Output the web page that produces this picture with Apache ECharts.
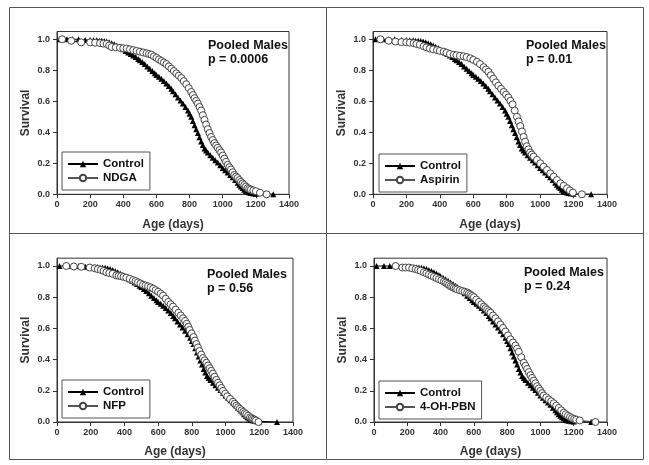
<!DOCTYPE html>
<html>
<head>
<meta charset="utf-8">
<script src="https://cdn.jsdelivr.net/npm/echarts@6/dist/echarts.min.js"></script>
<style>
  html, body { margin: 0; padding: 0; background: #fff; }
  #chart { width: 649px; height: 465px; }
</style>
</head>
<body>
<div id="chart"></div>
<script>
// ages (days) and survival fraction
// pooled male controls, same cohort in all four panels
var control = [[15,1],[60,1],[95,1],[130,1],[170,0.995],[200,0.995],[220,0.993],[240,0.993],[255,0.99],[270,0.99],[285,0.988],[300,0.985],[315,0.98],[330,0.975],[345,0.968],[360,0.96],[375,0.952],[390,0.943],[400,0.935],[415,0.925],[430,0.915],[445,0.905],[460,0.895],[475,0.885],[490,0.873],[500,0.865],[515,0.853],[530,0.84],[545,0.825],[560,0.81],[575,0.795],[590,0.78],[600,0.77],[615,0.758],[630,0.745],[645,0.73],[660,0.715],[675,0.698],[690,0.68],[700,0.665],[715,0.645],[730,0.625],[745,0.605],[760,0.585],[775,0.563],[790,0.54],[800,0.52],[810,0.5],[820,0.473],[830,0.445],[840,0.42],[850,0.395],[860,0.368],[870,0.34],[880,0.318],[890,0.295],[900,0.282],[910,0.27],[925,0.252],[940,0.235],[955,0.22],[970,0.205],[985,0.188],[1000,0.17],[1015,0.155],[1030,0.14],[1045,0.125],[1060,0.11],[1075,0.092],[1090,0.075],[1100,0.062],[1110,0.05],[1120,0.04],[1130,0.03],[1140,0.022],[1150,0.015],[1160,0.011],[1170,0.008],[1185,0.005],[1200,0.004],[1305,0]];

var ndga = [[31,1],[86,0.99],[146,0.98],[200,0.98],[230,0.978],[260,0.975],[280,0.972],[300,0.97],[315,0.96],[330,0.95],[355,0.948],[380,0.945],[400,0.942],[420,0.94],[440,0.935],[460,0.93],[480,0.925],[500,0.92],[520,0.915],[540,0.91],[555,0.905],[570,0.9],[585,0.89],[600,0.88],[615,0.87],[630,0.86],[645,0.85],[660,0.84],[675,0.825],[690,0.81],[705,0.795],[720,0.78],[735,0.765],[750,0.75],[765,0.73],[780,0.71],[795,0.685],[810,0.66],[820,0.64],[830,0.62],[840,0.603],[850,0.585],[860,0.563],[870,0.54],[880,0.51],[890,0.48],[900,0.45],[910,0.42],[920,0.395],[930,0.37],[940,0.35],[950,0.33],[960,0.315],[970,0.3],[980,0.285],[990,0.27],[1000,0.25],[1010,0.23],[1020,0.21],[1030,0.19],[1040,0.175],[1050,0.16],[1060,0.142],[1070,0.125],[1080,0.115],[1090,0.105],[1100,0.092],[1110,0.08],[1120,0.07],[1130,0.06],[1140,0.05],[1150,0.04],[1160,0.035],[1170,0.03],[1185,0.025],[1200,0.02],[1225,0.01],[1265,0]];

var aspirin = [[44,1],[94,0.99],[134,0.985],[170,0.982],[199,0.98],[220,0.978],[243,0.975],[260,0.97],[280,0.965],[303,0.955],[320,0.948],[340,0.94],[360,0.935],[383,0.93],[400,0.925],[423,0.92],[440,0.913],[460,0.905],[483,0.9],[500,0.897],[520,0.893],[542,0.89],[560,0.885],[582,0.877],[600,0.867],[622,0.855],[640,0.84],[662,0.82],[676,0.805],[690,0.79],[705,0.768],[720,0.745],[735,0.722],[750,0.7],[766,0.68],[782,0.66],[796,0.643],[810,0.625],[822,0.603],[835,0.58],[848,0.54],[861,0.5],[871,0.47],[881,0.44],[891,0.405],[901,0.37],[910,0.34],[920,0.31],[930,0.29],[940,0.27],[950,0.256],[961,0.243],[981,0.222],[1001,0.2],[1021,0.178],[1041,0.157],[1061,0.135],[1081,0.114],[1101,0.092],[1121,0.071],[1141,0.055],[1161,0.039],[1178,0.025],[1196,0.011],[1250,0]];

var nfp = [[55,1],[100,0.997],[144,0.995],[194,0.99],[224,0.985],[242,0.98],[260,0.975],[276,0.968],[293,0.96],[310,0.955],[330,0.95],[352,0.94],[366,0.937],[380,0.935],[395,0.93],[411,0.925],[431,0.918],[451,0.91],[466,0.903],[480,0.895],[495,0.888],[510,0.88],[525,0.875],[540,0.87],[555,0.863],[570,0.855],[585,0.845],[600,0.835],[615,0.823],[629,0.81],[645,0.79],[660,0.77],[674,0.755],[688,0.74],[704,0.72],[720,0.7],[734,0.683],[748,0.665],[760,0.648],[770,0.63],[779,0.61],[787,0.59],[798,0.568],[810,0.545],[818,0.522],[827,0.5],[836,0.478],[845,0.455],[856,0.432],[866,0.41],[876,0.395],[886,0.38],[896,0.362],[906,0.345],[915,0.328],[925,0.31],[935,0.29],[945,0.27],[955,0.252],[965,0.235],[975,0.218],[985,0.2],[998,0.182],[1010,0.165],[1027,0.148],[1044,0.13],[1054,0.117],[1064,0.105],[1074,0.095],[1084,0.085],[1095,0.075],[1105,0.065],[1114,0.057],[1123,0.05],[1134,0.04],[1145,0.03],[1154,0.025],[1163,0.02],[1172,0.015],[1180,0.01],[1195,0]];

var ohpbn = [[130,1],[170,0.99],[190,0.99],[210,0.99],[230,0.985],[250,0.98],[265,0.975],[280,0.97],[300,0.96],[315,0.953],[330,0.945],[345,0.938],[360,0.93],[375,0.923],[390,0.915],[405,0.908],[420,0.9],[430,0.893],[440,0.885],[450,0.878],[460,0.87],[470,0.865],[480,0.86],[490,0.855],[500,0.85],[515,0.845],[530,0.84],[545,0.835],[560,0.83],[570,0.823],[580,0.815],[590,0.808],[600,0.8],[615,0.785],[630,0.77],[645,0.755],[660,0.74],[670,0.73],[680,0.72],[690,0.71],[700,0.7],[715,0.683],[730,0.665],[745,0.645],[760,0.625],[775,0.603],[790,0.58],[805,0.555],[820,0.53],[835,0.51],[850,0.49],[860,0.47],[870,0.45],[885,0.415],[900,0.38],[910,0.36],[920,0.34],[930,0.32],[940,0.3],[950,0.283],[960,0.265],[970,0.248],[980,0.23],[990,0.215],[1000,0.2],[1010,0.185],[1020,0.17],[1035,0.158],[1050,0.145],[1065,0.133],[1080,0.12],[1095,0.105],[1110,0.09],[1125,0.075],[1140,0.06],[1152,0.05],[1165,0.04],[1178,0.032],[1190,0.025],[1203,0.02],[1215,0.015],[1236,0.01],[1330,0]];

var treatNames = ['NDGA', 'Aspirin', 'NFP', '4-OH-PBN'];
var treatData = [ndga, aspirin, nfp, ohpbn];
var pValues = ['0.0006', '0.01', '0.56', '0.24'];
var yTicks = [0, 0.2, 0.4, 0.6, 0.8, 1.0];

// panel layout
var grids = [
  {left: 57, top: 31.5, width: 232, height: 162.8},
  {left: 373, top: 31.5, width: 234, height: 162.8},
  {left: 57, top: 258.2, width: 236, height: 163.8},
  {left: 374, top: 258.2, width: 233, height: 163.8}
];
var legendPos = [[62, 152, 84], [379, 154, 83], [62, 380, 84], [379, 381, 98]];
var notePos = [[208, 39], [526, 39], [207, 268], [524, 266]];

var font = 'Liberation Sans, Arial, sans-serif';
var dark = '#333';

var xAxes = [], yAxes = [], series = [], legends = [], titles = [];
for (var i = 0; i < 4; i++) {
  xAxes.push({
    gridIndex: i, type: 'value', min: 0, max: 1400, interval: 200,
    name: 'Age (days)', nameLocation: 'middle', nameGap: 24,
    nameTextStyle: {fontFamily: font, fontWeight: 'bold', fontSize: 12, color: dark},
    axisLine: {lineStyle: {color: dark, width: 1}},
    axisTick: {length: 4, lineStyle: {color: dark}},
    axisLabel: {fontFamily: font, fontWeight: 'bold', fontSize: 9, color: dark, margin: 6,
      formatter: function (v) { return String(v); }},
    splitLine: {show: false}
  });
  yAxes.push({
    gridIndex: i, type: 'value', min: 0, max: 1.05,
    name: 'Survival', nameLocation: 'middle', nameGap: 25, nameRotate: 90,
    nameTextStyle: {fontFamily: font, fontWeight: 'bold', fontSize: 12, color: dark},
    axisLine: {lineStyle: {color: dark, width: 1}},
    axisTick: {length: 4, lineStyle: {color: dark}, customValues: yTicks},
    axisLabel: {fontFamily: font, fontWeight: 'bold', fontSize: 9, color: dark, margin: 7,
      customValues: yTicks, formatter: function (v) { return v.toFixed(1); }},
    splitLine: {show: false}
  });
  series.push({
    name: 'Control', type: 'line', xAxisIndex: i, yAxisIndex: i,
    data: control, symbol: 'triangle', symbolSize: 6,
    itemStyle: {color: '#000'},
    lineStyle: {color: '#000', width: 1}
  });
  series.push({
    name: treatNames[i], type: 'line', xAxisIndex: i, yAxisIndex: i,
    data: treatData[i], symbol: 'circle', symbolSize: 7,
    itemStyle: {color: '#fff', borderColor: '#444', borderWidth: 1},
    lineStyle: {color: '#555', width: 1}
  });
  legends.push({
    data: ['Control', treatNames[i]], orient: 'vertical',
    left: legendPos[i][0], top: legendPos[i][1], width: legendPos[i][2],
    itemWidth: 30, itemHeight: 8, itemGap: 0, padding: [5, 6, 5, 5],
    borderColor: '#555', borderWidth: 1,
    selectedMode: false,
    textStyle: {fontFamily: font, fontWeight: 'bold', fontSize: 11.5, color: '#111', lineHeight: 14}
  });
  titles.push({
    text: 'Pooled Males\np = ' + pValues[i],
    left: notePos[i][0], top: notePos[i][1], padding: 0,
    textStyle: {fontFamily: font, fontWeight: 'bold', fontSize: 12.5, color: '#111', lineHeight: 14}
  });
}

var chart = echarts.init(document.getElementById('chart'));
chart.setOption({
  animation: false,
  backgroundColor: '#fff',
  title: titles,
  legend: legends,
  grid: grids.map(function (g) {
    return Object.assign({show: true, borderColor: dark, borderWidth: 1, backgroundColor: 'transparent'}, g);
  }),
  xAxis: xAxes,
  yAxis: yAxes,
  series: series,
  graphic: [
    {type: 'rect', shape: {x: 9.5, y: 7.5, width: 634, height: 452}, style: {fill: 'none', stroke: '#555', lineWidth: 1}, silent: true},
    {type: 'line', shape: {x1: 326.5, y1: 7.5, x2: 326.5, y2: 459.5}, style: {stroke: '#555', lineWidth: 1}, silent: true},
    {type: 'line', shape: {x1: 9.5, y1: 233.5, x2: 643.5, y2: 233.5}, style: {stroke: '#555', lineWidth: 1}, silent: true}
  ]
});
</script>
</body>
</html>
